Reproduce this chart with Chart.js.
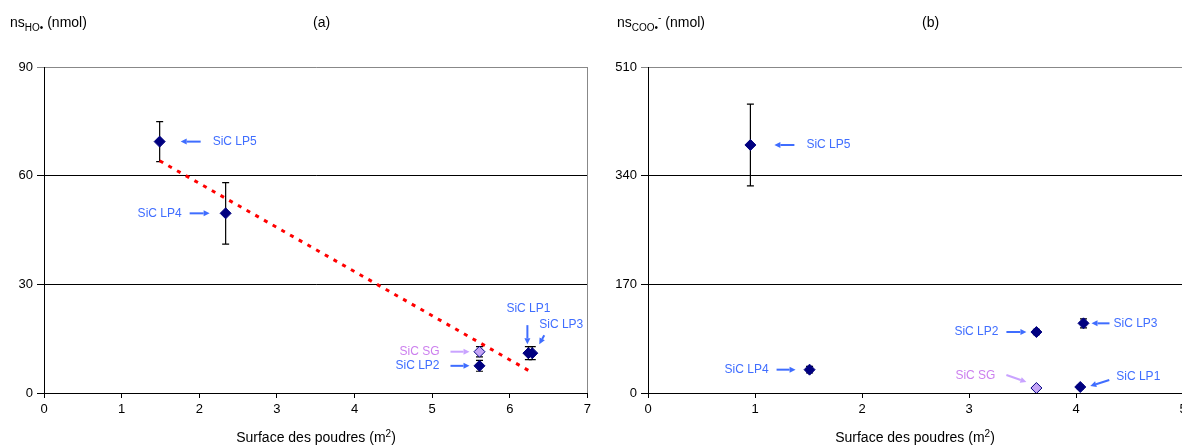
<!DOCTYPE html>
<html><head><meta charset="utf-8">
<script src="https://cdn.jsdelivr.net/npm/chart.js@4.4.1/dist/chart.umd.min.js"></script>
<style>
html,body{margin:0;padding:0;background:#fff;}
#wrap{position:relative;width:1182px;height:445px;overflow:hidden;font-family:"Liberation Sans",Arial,sans-serif;color:#000;}
canvas{position:absolute;top:0;}
#ca{left:0;}
#cb{left:591px;}
.t{position:absolute;font-size:14px;line-height:18px;white-space:nowrap;}
.t sub{font-size:10px;vertical-align:-4px;line-height:0;}
.t sup{font-size:10px;vertical-align:6px;line-height:0;}
.ax{position:absolute;top:428px;font-size:14px;line-height:18px;white-space:nowrap;transform:translateX(-50%);}
.ax sup{font-size:10px;vertical-align:5px;line-height:0;}
</style></head>
<body>
<div id="wrap">
<canvas id="ca" width="595" height="445"></canvas>
<canvas id="cb" width="600" height="445"></canvas>
<div class="t" style="left:10px;top:13px">ns<sub>HO•</sub> (nmol)</div>
<div class="t" style="left:313px;top:13px">(a)</div>
<div class="t" style="left:617px;top:13px">ns<sub>COO•</sub><sup>-</sup> (nmol)</div>
<div class="t" style="left:922px;top:13px">(b)</div>
<div class="ax" style="left:316px">Surface des poudres (m<sup>2</sup>)</div>
<div class="ax" style="left:915px">Surface des poudres (m<sup>2</sup>)</div>
</div>
<script>
// ---- data ----
const samples = ['SiC LP5','SiC LP4','SiC SG','SiC LP2','SiC LP1','SiC LP3'];
// (a) HO• radicals
const surfA = [1.49, 2.34, 5.61, 5.61, 6.24, 6.29];
const nsHO  = [69.4, 49.6, 11.4, 7.5, 11.0, 11.0];
const errHO = [5.5, 8.5, 1.4, 1.5, 1.8, 1.8];
const trendX = [1.49, 6.26];
const trendY = [64.1, 6.0];
const ticksAx = [0,1,2,3,4,5,6,7];
const ticksAy = [0,30,60,90];
// (b) COO•- radicals
const surfB  = [0.957, 1.51, 3.63, 3.63, 4.04, 4.07];
const nsCOO  = [388, 36.5, 7.8, 95.4, 9.4, 109];
const errCOO = [64, 5, 2, 4, 3, 7];
const ticksBx = [0,1,2,3,4,5];
const ticksBy = [0,170,340,510];

// ---- styles / annotation layout ----
const NAVY = '#000080', LAV = '#C4A4F6', BLUE = '#3F6DFF', VIOLET = '#CC7FEE', VARROW = '#C9A3FF';
const notesA = {
  'SiC LP5': {tx:53, ty:0, align:'left',  a:[41,0,21,0]},
  'SiC LP4': {tx:-44, ty:0, align:'right', a:[-36,0,-16,0]},
  'SiC SG':  {tx:-40, ty:0, align:'right', a:[-29,0,-10,0]},
  'SiC LP2': {tx:-40, ty:0, align:'right', a:[-29,0,-10,0]},
  'SiC LP1': {tx:0, ty:-44, align:'center', a:[-1,-28,-1,-9]},
  'SiC LP3': {tx:7, ty:-28, align:'left', a:[12,-18,7,-9]}
};
const notesB = {
  'SiC LP5': {tx:56, ty:0, align:'left',  a:[44,0,24,0]},
  'SiC LP4': {tx:-41, ty:0, align:'right', a:[-33,0,-14,0]},
  'SiC SG':  {tx:-41, ty:-12, align:'right', a:[-30,-13,-10,-6]},
  'SiC LP2': {tx:-38, ty:0, align:'right', a:[-30,0,-10,0]},
  'SiC LP1': {tx:36, ty:-10, align:'left', a:[29,-7,10,-1]},
  'SiC LP3': {tx:30, ty:0, align:'left', a:[26,0,8,0]}
};

function arrow(ctx, x1, y1, x2, y2, color){
  ctx.save();
  ctx.strokeStyle = color; ctx.fillStyle = color; ctx.lineWidth = 2;
  const ang = Math.atan2(y2-y1, x2-x1), hl = 6, hw = 3;
  const bx = x2 - Math.cos(ang)*hl, by = y2 - Math.sin(ang)*hl;
  ctx.beginPath(); ctx.moveTo(x1,y1); ctx.lineTo(bx,by); ctx.stroke();
  ctx.beginPath(); ctx.moveTo(x2,y2);
  ctx.lineTo(bx - Math.sin(ang)*hw, by + Math.cos(ang)*hw);
  ctx.lineTo(bx + Math.sin(ang)*hw, by - Math.cos(ang)*hw);
  ctx.closePath(); ctx.fill();
  ctx.restore();
}

function makePlugin(xs, ys, errs, notes){
  return {
    id:'extras',
    beforeDatasetsDraw(chart){
      const {ctx, scales:{x,y}, chartArea} = chart;
      ctx.save();
      ctx.strokeStyle = '#888'; ctx.lineWidth = 1;
      ctx.beginPath(); ctx.moveTo(Math.round(chartArea.right)+0.5, chartArea.top); ctx.lineTo(Math.round(chartArea.right)+0.5, chartArea.bottom); ctx.stroke();
      ctx.strokeStyle = '#000'; ctx.lineWidth = 1.2;
      for (let i=0;i<xs.length;i++){
        const px = x.getPixelForValue(xs[i]);
        const t = y.getPixelForValue(ys[i]+errs[i]), b = y.getPixelForValue(ys[i]-errs[i]);
        ctx.beginPath();
        ctx.moveTo(px,t); ctx.lineTo(px,b);
        ctx.moveTo(px-3.5,t); ctx.lineTo(px+3.5,t);
        ctx.moveTo(px-3.5,b); ctx.lineTo(px+3.5,b);
        ctx.stroke();
      }
      ctx.restore();
    },
    afterDatasetsDraw(chart){
      const {ctx, scales:{x,y}} = chart;
      ctx.save();
      ctx.font = '12px "Liberation Sans", Arial, sans-serif';
      ctx.textBaseline = 'middle';
      for (let i=0;i<xs.length;i++){
        const n = notes[samples[i]]; if(!n) continue;
        const px = x.getPixelForValue(xs[i]), py = y.getPixelForValue(ys[i]);
        const sg = samples[i]==='SiC SG';
        arrow(ctx, px+n.a[0], py+n.a[1], px+n.a[2], py+n.a[3], sg?VARROW:BLUE);
        ctx.fillStyle = sg?VIOLET:BLUE;
        ctx.textAlign = n.align;
        ctx.fillText(samples[i], px+n.tx, py+n.ty);
      }
      ctx.restore();
    }
  };
}

function build(id, xs, ys, errs, notes, xTicks, yTicks, yw, padR, extra){
  const pts = xs.map((v,i)=>({x:v, y:ys[i]}));
  const datasets = [{
    type:'scatter', data:pts, order:1,
    pointStyle:'rectRot', pointRadius:5.5,
    pointBackgroundColor: samples.map(s=> s==='SiC SG'?LAV:NAVY),
    pointBorderColor: NAVY, pointBorderWidth:1
  }];
  if (extra) datasets.push(extra);
  const tickFont = {family:'"Liberation Sans", Arial, sans-serif', size:13};
  return new Chart(document.getElementById(id), {
    data:{datasets},
    options:{
      responsive:false, animation:false, devicePixelRatio:1,
      layout:{padding:{top:67, right:padR, left:0, bottom:0}},
      plugins:{legend:{display:false}, tooltip:{enabled:false}},
      scales:{
        x:{type:'linear', min:xTicks[0], max:xTicks[xTicks.length-1],
           afterBuildTicks(s){ s.ticks = xTicks.map(v=>({value:v})); },
           ticks:{color:'#000', font:tickFont, padding:4, maxRotation:0, autoSkip:false},
           grid:{drawOnChartArea:false, drawTicks:true, tickLength:5, color:'#000'},
           border:{color:'#000', width:1},
           afterFit(s){ s.height = 52; }},
        y:{type:'linear', min:yTicks[0], max:yTicks[yTicks.length-1],
           afterBuildTicks(s){ s.ticks = yTicks.map(v=>({value:v})); },
           ticks:{color:'#000', font:tickFont, padding:4},
           grid:{color:(c)=> (c.tick && c.tick.value===yTicks[yTicks.length-1]) ? '#888' : '#000', tickLength:7, lineWidth:1},
           border:{color:'#000', width:1},
           afterFit(s){ s.width = yw; }}
      }
    },
    plugins:[makePlugin(xs, ys, errs, notes)]
  });
}

build('ca', surfA, nsHO, errHO, notesA, ticksAx, ticksAy, 44, 6, {
  type:'line', data: trendX.map((v,i)=>({x:v,y:trendY[i]})), order:2,
  borderColor:'#FF0000', borderWidth:3, borderDash:[4,6], pointRadius:0, fill:false
});
build('cb', surfB, nsCOO, errCOO, notesB, ticksBx, ticksBy, 57, 8, null);
</script>
</body></html>
